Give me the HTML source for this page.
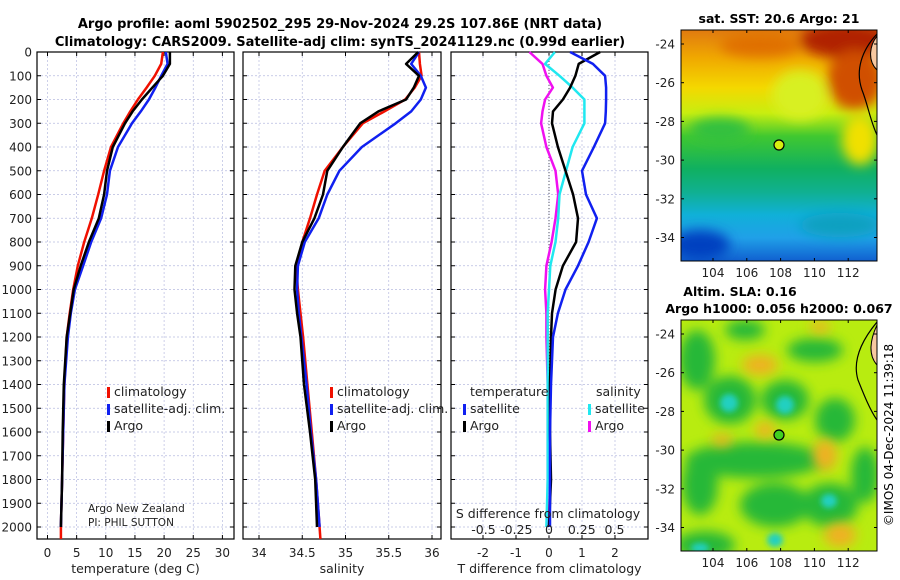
<!DOCTYPE html>
<html><head><meta charset="utf-8"><style>
body{margin:0;background:#fff;}
svg{display:block;font-family:"DejaVu Sans","Liberation Sans",sans-serif;}
</style></head><body>
<svg id="fig" width="900" height="580" viewBox="0 0 900 580" xmlns="http://www.w3.org/2000/svg">
<defs>
<filter id="blur6" x="-20%" y="-20%" width="140%" height="140%"><feGaussianBlur stdDeviation="6"/></filter>
<filter id="blur3"><feGaussianBlur stdDeviation="3"/></filter>
<clipPath id="m1"><rect x="681" y="30" width="196" height="231"/></clipPath>
<clipPath id="m2"><rect x="681" y="320" width="196" height="231"/></clipPath>
<linearGradient id="sst" x1="0" y1="0" x2="0" y2="1">
<stop offset="0" stop-color="#e07a10"/><stop offset="0.12" stop-color="#f0a800"/>
<stop offset="0.25" stop-color="#f4d800"/><stop offset="0.36" stop-color="#c8ee10"/>
<stop offset="0.46" stop-color="#40c830"/><stop offset="0.6" stop-color="#10b060"/>
<stop offset="0.7" stop-color="#10b090"/><stop offset="0.8" stop-color="#10b0d8"/>
<stop offset="0.9" stop-color="#20a0e8"/><stop offset="1" stop-color="#1060d0"/>
</linearGradient>
</defs>
<g font-weight="bold" font-size="13" text-anchor="middle">
<text x="340" y="28">Argo profile: aoml 5902502_295 29-Nov-2024 29.2S 107.86E (NRT data)</text>
<text x="340" y="46">Climatology: CARS2009. Satellite-adj clim: synTS_20241129.nc (0.99d earlier)</text>
</g>
<g id="panels"></g>

<g>
<text x="779" y="23" font-size="12.5" font-weight="bold" text-anchor="middle">sat. SST: 20.6 Argo: 21</text>
<g clip-path="url(#m1)">
<rect x="681" y="30" width="196" height="231" fill="url(#sst)"/>
<g filter="url(#blur6)">
<ellipse cx="845" cy="40" rx="45" ry="18" fill="#b02000"/>
<ellipse cx="855" cy="80" rx="28" ry="30" fill="#d05000"/>
<ellipse cx="760" cy="45" rx="40" ry="12" fill="#e07000"/>
<ellipse cx="800" cy="95" rx="28" ry="25" fill="#d8f020"/>
<ellipse cx="720" cy="130" rx="30" ry="12" fill="#30c040"/>
<ellipse cx="860" cy="140" rx="18" ry="25" fill="#f0e000"/>
<ellipse cx="700" cy="245" rx="30" ry="15" fill="#0040c0"/>
<ellipse cx="840" cy="225" rx="40" ry="12" fill="#10a0c0"/>
</g>
<path d="M877,34 C862,50 855,70 862,90 C868,105 870,120 877,135" fill="none" stroke="#000" stroke-width="1.2"/>
<path d="M877,36 C870,45 867,60 877,70 Z" fill="#f8c8a0" stroke="#000"/>
</g>
<rect x="681" y="30" width="196" height="231" fill="none" stroke="#000"/>
<circle cx="779" cy="145" r="5" fill="#d8ee10" stroke="#000" stroke-width="1.2"/>
</g>

<g>
<text x="740" y="296" font-size="12.5" font-weight="bold" text-anchor="middle">Altim. SLA: 0.16</text>
<text x="779" y="313" font-size="12.5" font-weight="bold" text-anchor="middle">Argo h1000: 0.056 h2000: 0.067</text>
<g clip-path="url(#m2)">
<rect x="681" y="320" width="196" height="231" fill="#b8ec10"/>
<g filter="url(#blur6)" fill="#28b838">
<ellipse cx="730" cy="400" rx="26" ry="24"/><ellipse cx="785" cy="400" rx="24" ry="20"/>
<ellipse cx="815" cy="350" rx="28" ry="12"/><ellipse cx="697" cy="360" rx="18" ry="30"/>
<ellipse cx="755" cy="460" rx="70" ry="18"/><ellipse cx="835" cy="420" rx="20" ry="22"/>
<ellipse cx="700" cy="485" rx="18" ry="30"/><ellipse cx="775" cy="505" rx="35" ry="22"/>
<ellipse cx="830" cy="505" rx="28" ry="22"/><ellipse cx="705" cy="545" rx="30" ry="14"/>
<ellipse cx="865" cy="475" rx="14" ry="28"/><ellipse cx="745" cy="330" rx="20" ry="10"/>
</g>
<g filter="url(#blur3)" fill="#20d0c0">
<ellipse cx="729" cy="403" rx="9" ry="9"/><ellipse cx="785" cy="405" rx="9" ry="9"/>
<ellipse cx="829" cy="501" rx="8" ry="7"/><ellipse cx="775" cy="540" rx="8" ry="7"/>
<ellipse cx="700" cy="548" rx="9" ry="5"/>
</g>
<g filter="url(#blur6)" fill="#f0b020">
<ellipse cx="760" cy="365" rx="18" ry="10"/><ellipse cx="825" cy="455" rx="12" ry="16"/>
<ellipse cx="840" cy="535" rx="16" ry="12"/><ellipse cx="765" cy="430" rx="10" ry="8"/>
<ellipse cx="722" cy="440" rx="10" ry="6"/><ellipse cx="820" cy="327" rx="10" ry="6"/>
</g>
<path d="M877,322 C862,340 852,360 858,380 C864,395 870,410 877,420" fill="none" stroke="#000" stroke-width="1.2"/>
<path d="M877,325 C870,340 868,355 877,365 Z" fill="#f8c8a0" stroke="#000"/>
</g>
<rect x="681" y="320" width="196" height="231" fill="none" stroke="#000"/>
<circle cx="779" cy="435" r="5" fill="#40d020" stroke="#000" stroke-width="1.2"/>
</g>
<text transform="translate(893,435) rotate(-90)" font-size="12" text-anchor="middle">©IMOS 04-Dec-2024 11:39:18</text>
<g id="maps-axes"></g>
</svg>
<script>
const depths = [0,50,100,150,200,250,300,400,500,600,700,800,900,1000,1100,1200,1400,1600,1800,2000];
const tempArgo = [21.0,21.0,19.8,18.0,16.2,14.6,13.3,11.2,10.2,9.7,8.8,7.1,5.7,4.5,3.9,3.3,2.8,2.6,2.5,2.3];
const tempClim = [19.8,19.5,18.4,17.0,15.5,14.2,13.0,10.9,9.7,8.7,7.6,6.3,5.2,4.4,3.8,3.3,2.9,2.7,2.5,2.3];
const tempSat  = [20.3,20.6,19.5,18.5,17.4,16.0,14.5,12.1,10.7,10.2,9.2,7.5,6.1,4.7,4.0,3.5,2.9,2.7,2.5,2.3];
const salArgo = [35.84,35.70,35.85,35.79,35.70,35.38,35.17,34.97,34.79,34.74,34.64,34.50,34.42,34.41,34.44,34.48,34.52,34.59,34.65,34.67];
const salClim = [35.85,35.86,35.88,35.80,35.69,35.45,35.20,34.97,34.76,34.67,34.59,34.50,34.43,34.45,34.48,34.51,34.56,34.61,34.66,34.70];
const salSat  = [35.85,35.76,35.87,35.93,35.87,35.76,35.58,35.19,34.93,34.79,34.69,34.53,34.45,34.44,34.46,34.49,34.55,34.60,34.66,34.70];
const dTArgo = [1.55,0.9,0.8,0.64,0.42,0.12,0.09,0.27,0.5,0.73,0.88,0.82,0.42,0.2,0.09,0.06,0.03,0.03,0.06,0.0];
const dTSat  = [0.64,1.33,1.7,1.73,1.73,1.72,1.7,1.36,1.0,1.12,1.45,1.2,0.88,0.5,0.27,0.12,0.06,0.03,0.03,0.03];
const dSSat  = [0.045,-0.03,0.08,0.18,0.27,0.27,0.27,0.18,0.13,0.08,0.07,0.05,0.01,0.0,-0.01,-0.01,-0.01,-0.01,-0.01,-0.02];
const dSArgo = [-0.15,-0.05,-0.02,0.03,-0.03,-0.05,-0.06,-0.02,0.05,0.07,0.05,0.02,-0.02,-0.03,-0.02,-0.02,-0.01,-0.01,-0.01,-0.01];
const depthTicks = [0,100,200,300,400,500,600,700,800,900,1000,1100,1200,1300,1400,1500,1600,1700,1800,1900,2000];
const tempTicks = [0,5,10,15,20,25,30];
const salTicks = [34,34.5,35,35.5,36];
const dTTicks = [-2,-1,0,1,2];
const dSTicks = [-0.5,-0.25,0,0.25,0.5];
const dSLabels = ['-0.5','-0.25','0','0.25','0.5'];
const lonTicks = [104,106,108,110,112];
const latTicks = [-24,-26,-28,-30,-32,-34];

const NS='http://www.w3.org/2000/svg';
const top0=52, bot=539;
const yD = d => top0 + d*0.2375;
function mk(tag, attrs, parent){const e=document.createElementNS(NS,tag);for(const k in attrs)e.setAttribute(k,attrs[k]);parent.appendChild(e);return e;}
const P=document.getElementById('panels');

function panel(name, x0, x1, xs, ticks, labels, xlabel, showDepth){
  const g=mk('g',{},P);
  
  
  depthTicks.forEach(d=>{mk('line',{x1:x0,x2:x1,y1:yD(d),y2:yD(d),stroke:'#b8bce0','stroke-width':0.7,'stroke-dasharray':'2,2'},g);});
  ticks.forEach((t,i)=>{const x=xs(t);mk('line',{x1:x,x2:x,y1:top0,y2:bot,stroke:'#b8bce0','stroke-width':0.7,'stroke-dasharray':'2,2'},g);
    const tl=mk('text',{x:x,y:557,'font-size':12,'text-anchor':'middle',fill:'#222'},g);tl.textContent=labels[i];
    mk('line',{x1:x,x2:x,y1:bot,y2:bot-4,stroke:'#000'},g);mk('line',{x1:x,x2:x,y1:top0,y2:top0+4,stroke:'#000'},g);});
  depthTicks.forEach(d=>{mk('line',{x1:x0,x2:x0+4,y1:yD(d),y2:yD(d),stroke:'#000'},g);mk('line',{x1:x1,x2:x1-4,y1:yD(d),y2:yD(d),stroke:'#000'},g);
    if(showDepth){const t=mk('text',{x:x0-5,y:yD(d)+4.5,'font-size':12,'text-anchor':'end',fill:'#222'},g);t.textContent=d;}});
  const xl=mk('text',{x:(x0+x1)/2,y:573,'font-size':12.5,'text-anchor':'middle',fill:'#222'},g);xl.textContent=xlabel;
  mk('rect',{x:x0,y:top0,width:x1-x0,height:bot-top0,fill:'none',stroke:'#000','stroke-width':1.2},g);
  return g;
}
function series(g, xs, vals, color, name, w){
  const pts=vals.map((v,i)=>xs(v).toFixed(1)+','+yD(depths[i]).toFixed(1)).join(' ');
  const pl=mk('polyline',{points:pts,fill:'none',stroke:color,'stroke-width':w||2.5,'stroke-linejoin':'round'},g);
  
  
}
function legend(g,x,y,color,label){
  mk('rect',{x:x,y:y-9,width:3,height:11,fill:color},g);
  const t=mk('text',{x:x+7,y:y,'font-size':12.5,fill:'#222'},g);t.textContent=label;
}

const xT=t=>47.5+t*5.83;
const g1=panel('temperature-panel',37,234,xT,tempTicks,tempTicks.map(String),'temperature (deg C)',true);
series(g1,xT,tempClim,'#f01000','temp-climatology-line');
series(g1,xT,tempSat,'#1020f0','temp-satellite-line');
series(g1,xT,tempArgo,'#000','temp-argo-line');
mk('line',{x1:xT(2.3),x2:xT(2.3),y1:yD(2000),y2:bot,stroke:'#f01000','stroke-width':2.5},g1);
legend(g1,107,396,'#f01000','climatology');legend(g1,107,413,'#1020f0','satellite-adj. clim.');legend(g1,107,430,'#000','Argo');
let t1=mk('text',{x:88,y:512,'font-size':10.5,fill:'#222'},g1);t1.textContent='Argo New Zealand';
let t2=mk('text',{x:88,y:526,'font-size':10.5,fill:'#222'},g1);t2.textContent='PI: PHIL SUTTON';

const xS=s=>259+(s-34)*86.5;
const g2=panel('salinity-panel',243,441,xS,salTicks,salTicks.map(String),'salinity',false);
series(g2,xS,salClim,'#f01000','sal-climatology-line');
series(g2,xS,salSat,'#1020f0','sal-satellite-line');
series(g2,xS,salArgo,'#000','sal-argo-line');
mk('line',{x1:xS(34.7),x2:xS(34.71),y1:yD(2000),y2:bot,stroke:'#f01000','stroke-width':2.5},g2);
legend(g2,330,396,'#f01000','climatology');legend(g2,330,413,'#1020f0','satellite-adj. clim.');legend(g2,330,430,'#000','Argo');

const xDT=t=>549+t*33;
const xDS=s=>549+s*131;
const g3=panel('difference-panel',451,648,xDT,dTTicks,dTTicks.map(String),'T difference from climatology',false);
mk('line',{x1:549,x2:549,y1:top0,y2:bot,stroke:'#556','stroke-width':1,'stroke-dasharray':'1,2'},g3);
series(g3,xDS,dSArgo,'#f010f0','sdiff-argo-line');
series(g3,xDS,dSSat,'#20e8f0','sdiff-satellite-line');
series(g3,xDT,dTArgo,'#000','tdiff-argo-line');
series(g3,xDT,dTSat,'#1020f0','tdiff-satellite-line');
let st=mk('text',{x:548,y:518,'font-size':12.5,'text-anchor':'middle',fill:'#222'},g3);st.textContent='S difference from climatology';
dSTicks.forEach((s,i)=>{const t=mk('text',{x:xDS(s),y:534,'font-size':12.5,'text-anchor':'middle',fill:'#222'},g3);t.textContent=dSLabels[i];});
let lt=mk('text',{x:470,y:396,'font-size':12.5,fill:'#222'},g3);lt.textContent='temperature';
let ls=mk('text',{x:596,y:396,'font-size':12.5,fill:'#222'},g3);ls.textContent='salinity';
legend(g3,463,413,'#1020f0','satellite');legend(g3,463,430,'#000','Argo');
legend(g3,588,413,'#20e8f0','satellite');legend(g3,588,430,'#f010f0','Argo');

const MA=document.getElementById('maps-axes');
const xLon=l=>713+(l-104)*16.9;
[[30,261,44],[320,551,334]].forEach(([t,b,y24],k)=>{
  const g=mk('g',{},MA);
  
  
  lonTicks.forEach(l=>{const x=xLon(l);mk('line',{x1:x,x2:x,y1:b,y2:b-3,stroke:'#000'},g);mk('line',{x1:x,x2:x,y1:t,y2:t+3,stroke:'#000'},g);
    const tx=mk('text',{x:x,y:b+16,'font-size':12,'text-anchor':'middle',fill:'#222'},g);tx.textContent=l;});
  latTicks.forEach(la=>{const y=y24+(-24-la)*19.35;mk('line',{x1:681,x2:684,y1:y,y2:y,stroke:'#000'},g);mk('line',{x1:877,x2:874,y1:y,y2:y,stroke:'#000'},g);
    const tx=mk('text',{x:675,y:y+4.5,'font-size':12,'text-anchor':'end',fill:'#222'},g);tx.textContent=la;});
});
</script>
</body></html>
